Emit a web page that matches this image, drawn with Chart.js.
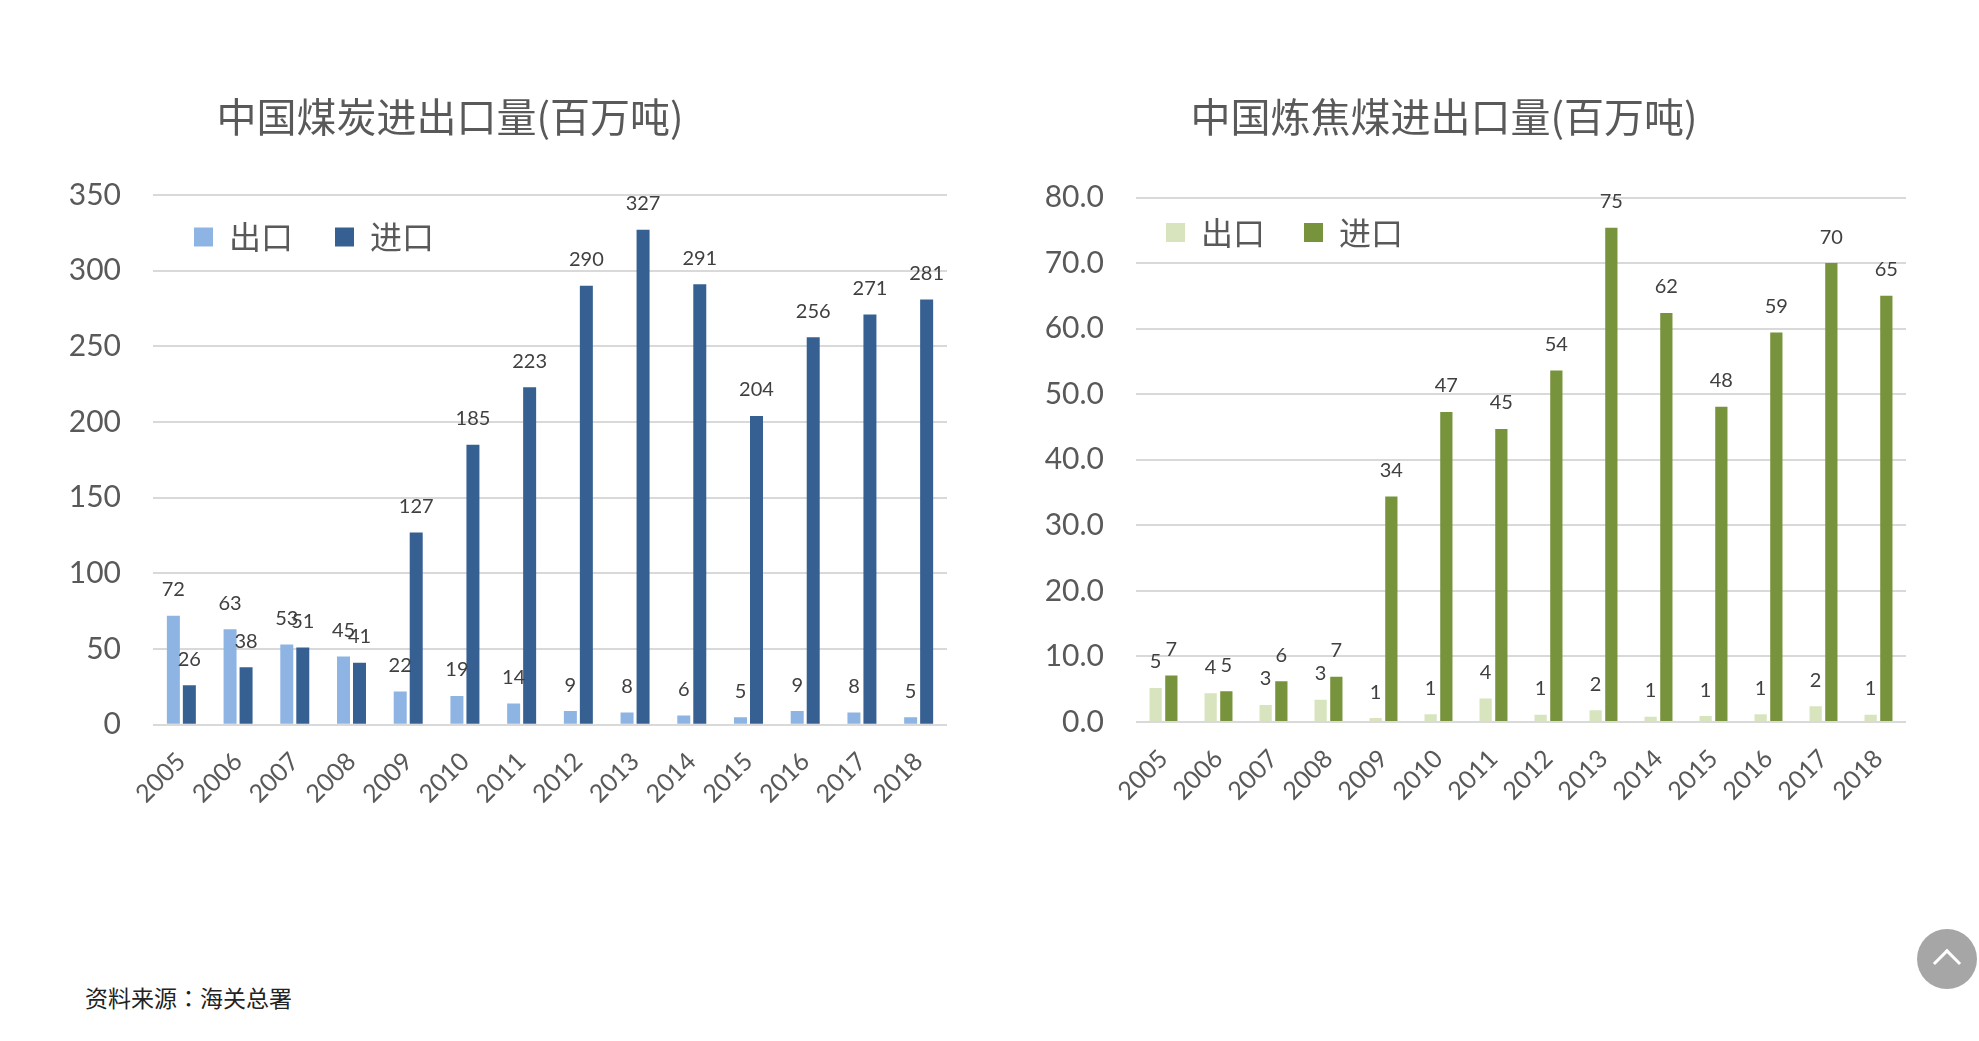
<!DOCTYPE html>
<html lang="zh-CN">
<head>
<meta charset="utf-8">
<title>中国煤炭进出口量</title>
<script src="https://cdn.jsdelivr.net/npm/chart.js@4/dist/chart.umd.js"></script>
<style>
  html, body { margin: 0; background: #fff; overflow: hidden; width: 1979px; height: 1041px; }
  canvas { position: absolute; top: 0; }
  #coalChart { left: 0; }
  #cokingChart { left: 990px; }
  #source { position: absolute; left: 85px; top: 981px; font: 23px/32px "Noto Sans CJK TC"; color: #222; }
  #toTop { position: absolute; left: 1917px; top: 929px; width: 60px; height: 60px; border-radius: 50%; background: #a6a6a6; }
  #toTop div { position: absolute; left: 20px; top: 24px; width: 20px; height: 20px; box-sizing: border-box;
    border-left: 3px solid #fff; border-top: 3px solid #fff; transform: rotate(45deg); }
</style>
</head>
<body>
<div style="position:relative">
  <div><canvas id="coalChart" width="990" height="850" style="width:990px;height:850px"></canvas></div>
  <div><canvas id="cokingChart" width="989" height="850" style="width:989px;height:850px"></canvas></div>
</div>
<div id="source" lang="zh-TW">资料来源：海关总署</div>
<div id="toTop"><div></div></div>

<script>
  const years = ['2005','2006','2007','2008','2009','2010','2011','2012','2013','2014','2015','2016','2017','2018'];

  // 中国煤炭 (million tons)
  const coalExport = [72, 63, 53, 45, 22, 19, 14, 9, 8, 6, 5, 9, 8, 5];
  const coalImport = [26, 38, 51, 41, 127, 185, 223, 290, 327, 291, 204, 256, 271, 281];

  // 中国炼焦煤 (million tons)
  const cokingExport = [5.2, 4.4, 2.6, 3.4, 0.6, 1.2, 3.6, 1.1, 1.8, 0.8, 0.9, 1.2, 2.4, 1.1];
  const cokingImport = [7.1, 4.7, 6.2, 6.9, 34.4, 47.3, 44.7, 53.6, 75.4, 62.4, 48.1, 59.4, 70.0, 65.0];

  const exportLabel = '出口';
  const importLabel = '进口';

  const grey = '#595959';
  const cjk = '"Lato", "Noto Sans CJK SC", sans-serif';

  // value labels sit a fixed distance above each bar, moves title + legend to where the original has them
  const placement = {
    id: 'placement',
    afterLayout(chart, args, opts) {
      const t = chart.titleBlock;
      const w = t.right - t.left;
      const h = t.bottom - t.top;
      t.left = opts.titleX - w / 2;
      t.right = opts.titleX + w / 2;
      t.top = opts.titleTop;
      t.bottom = opts.titleTop + h;
      const l = chart.legend;
      const lh = l.bottom - l.top;
      l.left = opts.legendX;
      l.top = opts.legendTop;
      l.bottom = opts.legendTop + lh;
    },
    afterDatasetsDraw(chart) {
      const ctx = chart.ctx;
      ctx.save();
      ctx.font = '20px ' + cjk;
      ctx.fillStyle = '#404040';
      ctx.textAlign = 'center';
      ctx.textBaseline = 'middle';
      chart.data.datasets.forEach((ds, i) => {
        chart.getDatasetMeta(i).data.forEach((bar, j) => {
          ctx.fillText(Math.round(ds.data[j]), bar.x, bar.y - 26);
        });
      });
      ctx.restore();
    }
  };

  function makeChart(id, cfg) {
    return new Chart(document.getElementById(id), {
      type: 'bar',
      plugins: [placement],
      data: {
        labels: years,
        datasets: [
          { label: exportLabel, data: cfg.exportData, backgroundColor: cfg.light },
          { label: importLabel, data: cfg.importData, backgroundColor: cfg.dark }
        ]
      },
      options: {
        responsive: false,
        animation: false,
        categoryPercentage: cfg.catPct,
        barPercentage: cfg.barPct,
        layout: { padding: { top: cfg.padTop, right: cfg.padRight, left: 0, bottom: 0 } },
        scales: {
          x: {
            grid: { display: false },
            border: { display: false },
            ticks: { minRotation: 45, maxRotation: 45, padding: 14, color: grey, font: { size: 25, family: cjk } },
            afterFit(scale) { scale.height = 850 - cfg.bottom; }
          },
          y: {
            min: 0,
            max: cfg.max,
            grid: { color: '#d9d9d9', lineWidth: 2, drawTicks: false },
            border: { display: false },
            ticks: {
              stepSize: cfg.step,
              padding: 32,
              color: grey,
              font: { size: 30, family: cjk },
              callback: cfg.tickFormat
            },
            afterFit(scale) { scale.width = cfg.axisWidth; }
          }
        },
        plugins: {
          title: {
            display: true,
            text: cfg.title,
            color: grey,
            padding: 0,
            font: { size: 40, weight: 'normal', family: '"Noto Sans CJK SC", sans-serif' }
          },
          legend: {
            display: true,
            align: 'start',
            labels: {
              boxWidth: 19,
              boxHeight: 19,
              padding: cfg.legendGap,
              color: grey,
              font: { size: 32, family: '"Noto Sans CJK SC", sans-serif' }
            }
          },
          tooltip: { enabled: false },
          placement: { titleX: cfg.titleX, titleTop: 93, legendX: cfg.legendX, legendTop: cfg.legendTop }
        }
      }
    });
  }

  makeChart('coalChart', {
    title: '中国煤炭进出口量(百万吨)',
    exportData: coalExport,
    importData: coalImport,
    light: '#8eb4e3',
    dark: '#376092',
    max: 350,
    step: 50,
    tickFormat: v => v,
    catPct: 0.564,
    barPct: 0.8125,
    padTop: 63,
    padRight: 43,
    axisWidth: 153,
    bottom: 724.7,
    titleX: 450,
    legendX: 152,
    legendTop: 179,
    legendGap: 42
  });

  makeChart('cokingChart', {
    title: '中国炼焦煤进出口量(百万吨)',
    exportData: cokingExport,
    importData: cokingImport,
    light: '#d7e4bd',
    dark: '#77933c',
    max: 80,
    step: 10,
    tickFormat: v => v.toFixed(1),
    catPct: 0.571,
    barPct: 0.78,
    padTop: 68.5,
    padRight: 73,
    axisWidth: 146,
    bottom: 722,
    titleX: 454,
    legendX: 137,
    legendTop: 177.5,
    legendGap: 39
  });
</script>
</body>
</html>
